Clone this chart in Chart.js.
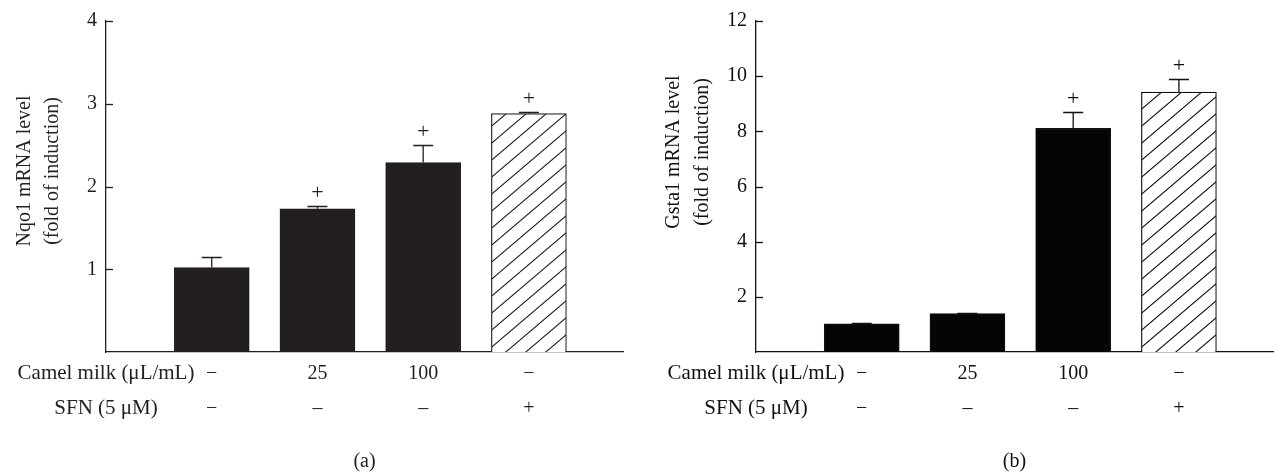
<!DOCTYPE html>
<html><head><meta charset="utf-8">
<script src="https://cdn.jsdelivr.net/npm/chart.js@4.4.0/dist/chart.umd.min.js"></script>
<style>
html,body{margin:0;padding:0;background:#fff;width:1274px;height:472px;overflow:hidden;}
.panel{position:absolute;top:0;width:624px;height:472px;}
#pa{left:0}
#pb{left:650px}
</style></head><body>
<div class="panel" id="pa"><canvas id="ca" width="624" height="472"></canvas></div>
<div class="panel" id="pb"><canvas id="cb" width="624" height="472"></canvas></div>
<script>
// ---- data ----
const groupPositions = [1, 2, 3, 4];
const camelMilkLabels = ['\u2212', '25', '100', '\u2212'];
const sfnLabels = ['\u2212', '\u2013', '\u2013', '+'];
const rowTitles = ['Camel milk (\u03bcL/mL)', 'SFN (5 \u03bcM)'];

const nqo1Values = [1.02, 1.73, 2.29, 2.88];
const nqo1Errors = [0.13, 0.04, 0.21, 0.02];
const nqo1Marks = ['', '+', '+', '+'];
const nqo1Ticks = [1, 2, 3, 4];
const nqo1Title = ['Nqo1 mRNA level', '(fold of induction)'];

const gsta1Values = [1.02, 1.39, 8.11, 9.42];
const gsta1Errors = [0.04, 0.04, 0.59, 0.49];
const gsta1Marks = ['', '', '+', '+'];
const gsta1Ticks = [2, 4, 6, 8, 10, 12];
const gsta1Title = ['Gsta1 mRNA level', '(fold of induction)'];

const FAMILY = "'Liberation Serif', 'Times New Roman', serif";

function hatch(color) {
  const w = 20, h = 17;
  const c = document.createElement('canvas');
  c.width = w; c.height = h;
  const g = c.getContext('2d');
  g.fillStyle = '#ffffff'; g.fillRect(0, 0, w, h);
  g.strokeStyle = color; g.lineWidth = 1.1;
  g.beginPath();
  for (const k of [-1, 0, 1]) { g.moveTo(0, h + k * h); g.lineTo(w, k * h); }
  g.stroke();
  return g.createPattern(c, 'repeat');
}

const extras = {
  id: 'extras',
  afterDraw(chart, args, o) {
    const ctx = chart.ctx, ys = chart.scales.y, ca = chart.chartArea;
    ctx.save();
    ctx.strokeStyle = o.ink; ctx.fillStyle = o.ink; ctx.lineWidth = 1.3;
    // inward tick marks
    o.ticks.forEach(v => {
      const y = Math.round(ys.getPixelForValue(v)) + 0.5;
      ctx.beginPath(); ctx.moveTo(ca.left, y); ctx.lineTo(ca.left + 7, y); ctx.stroke();
    });
    // error bars and significance marks
    const meta = chart.getDatasetMeta(0);
    meta.data.forEach((el, i) => {
      const v = o.values[i], e = o.errors[i];
      const yt = ys.getPixelForValue(v), ye = Math.round(ys.getPixelForValue(v + e)) + 0.5;
      ctx.beginPath();
      ctx.moveTo(el.x, yt); ctx.lineTo(el.x, ye);
      ctx.moveTo(el.x - 10, ye); ctx.lineTo(el.x + 10, ye);
      ctx.stroke();
      if (o.marks[i]) {
        ctx.font = '22px ' + FAMILY;
        ctx.textAlign = 'center'; ctx.textBaseline = 'middle';
        ctx.fillText(o.marks[i], el.x, ye - 13);
      }
    });
    // y axis title
    ctx.font = '20px ' + FAMILY;
    ctx.textAlign = 'center'; ctx.textBaseline = 'middle';
    o.title.forEach((t, k) => {
      ctx.save();
      ctx.translate(o.titleX[k], o.titleY);
      ctx.rotate(-Math.PI / 2);
      ctx.fillText(t, 0, 0);
      ctx.restore();
    });
    ctx.restore();
  }
};

function makeChart(id, cfg) {
  const ink = cfg.ink;
  const colors = cfg.values.map((v, i) => i === 3 ? hatch(ink) : cfg.fill);
  return new Chart(document.getElementById(id), {
    type: 'bar',
    data: {
      datasets: [{
        data: groupPositions.map((x, i) => ({ x: x, y: cfg.values[i] })),
        backgroundColor: colors,
        borderColor: ink,
        borderWidth: 1.2,
        borderSkipped: 'start',
        barThickness: 75
      }]
    },
    options: {
      responsive: false, animation: false, devicePixelRatio: 1,
      layout: { padding: { top: cfg.top, right: 1, left: 0, bottom: 0 } },
      plugins: {
        legend: { display: false }, tooltip: { enabled: false },
        extras: { ink: ink, ticks: cfg.ticks, values: cfg.values, errors: cfg.errors, marks: cfg.marks,
                  title: cfg.title, titleX: cfg.titleX, titleY: cfg.titleY }
      },
      scales: {
        x: {
          type: 'linear', min: 0, max: 4.89, offset: false,
          afterBuildTicks: s => { s.ticks = [0].concat(groupPositions).map(v => ({ value: v })); },
          afterFit: s => { s.height = 120; },
          grid: { display: false, drawTicks: false },
          border: { display: true, color: ink, width: 1.3 },
          ticks: {
            autoSkip: false, maxRotation: 0, minRotation: 0, padding: 4, color: ink,
            font: ctx => ({ family: FAMILY, size: ctx.index === 0 ? 21 : 20, lineHeight: ctx.index === 0 ? 35 / 21 : 1.75 }),
            callback: v => {
              const i = groupPositions.indexOf(v);
              return i < 0 ? rowTitles : [camelMilkLabels[i], sfnLabels[i]];
            }
          },
          title: { display: true, text: cfg.panel, color: ink,
                   font: { family: FAMILY, size: 20, lineHeight: 1 }, padding: { top: 0, bottom: 0 } }
        },
        y: {
          min: 0, max: cfg.max,
          afterBuildTicks: s => { s.ticks = cfg.ticks.map(v => ({ value: v })); },
          afterFit: s => { s.width = 106; },
          grid: { display: false, drawTicks: false },
          border: { display: true, color: ink, width: 1.3 },
          ticks: { padding: 9, color: ink, font: { family: FAMILY, size: 20 } }
        }
      }
    },
    plugins: [extras]
  });
}

makeChart('ca', { ink: '#231f20', fill: '#231f20', values: nqo1Values, errors: nqo1Errors, marks: nqo1Marks,
  ticks: nqo1Ticks, max: 4, top: 21, panel: '(a)', title: nqo1Title, titleX: [25, 53], titleY: 171 });
makeChart('cb', { ink: '#111111', fill: '#050505', values: gsta1Values, errors: gsta1Errors, marks: gsta1Marks,
  ticks: gsta1Ticks, max: 12, top: 20, panel: '(b)', title: gsta1Title, titleX: [24, 53], titleY: 152 });
</script>
</body></html>
